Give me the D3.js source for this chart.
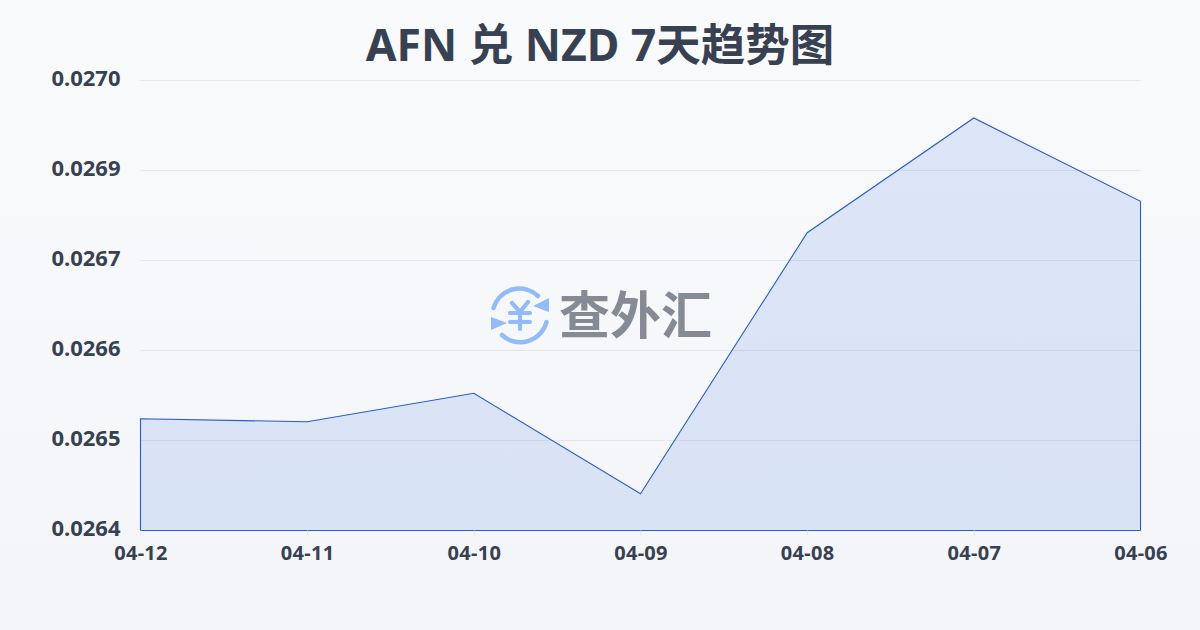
<!DOCTYPE html>
<html>
<head>
<meta charset="utf-8">
<script src="https://cdn.jsdelivr.net/npm/d3@7"></script>
<style>
  html, body { margin: 0; padding: 0; }
  body { width: 1200px; height: 630px; overflow: hidden; font-family: "Noto Sans", "Noto Sans CJK SC", sans-serif; }
  .axis text { font-family: "Noto Sans", "Noto Sans CJK SC", sans-serif; font-weight: 700; fill: #374151; }
  .axis path { display: none; }
</style>
</head>
<body>
<div id="chart"></div>
<script>
// AFN / NZD 7 day trend
const dates = ["04-12", "04-11", "04-10", "04-09", "04-08", "04-07", "04-06"];
const rates = [0.026549, 0.026545, 0.026583, 0.026449, 0.026797, 0.026950, 0.026839];
const yTickValues = [0.0264, 0.02652, 0.02664, 0.02676, 0.02688, 0.0270];
const yTickLabels = ["0.0264", "0.0265", "0.0266", "0.0267", "0.0269", "0.0270"];
const titleText = "AFN 兑 NZD 7天趋势图";
const logoText = "查外汇";

const W = 1200, H = 630;
const margin = { top: 80.5, right: 59.5, bottom: 99.5, left: 140.5 };
const width = W - margin.left - margin.right;
const height = H - margin.top - margin.bottom;

const root = d3.select("#chart").append("svg")
  .attr("width", W)
  .attr("height", H)
  .style("display", "block");

const defs = root.append("defs");
const bg = defs.append("linearGradient").attr("id", "bg").attr("x1", 0).attr("y1", 0).attr("x2", 0).attr("y2", 1);
bg.append("stop").attr("offset", "0%").attr("stop-color", "#f9fafc");
bg.append("stop").attr("offset", "100%").attr("stop-color", "#f3f5f8");

root.append("rect").attr("width", W).attr("height", H).attr("fill", "url(#bg)");

root.append("text")
  .attr("x", W / 2)
  .attr("y", 61)
  .attr("text-anchor", "middle")
  .attr("font-size", 44.5)
  .attr("font-weight", 700)
  .attr("fill", "#374151")
  .text(titleText);

const svg = root.append("g").attr("transform", `translate(${margin.left},${margin.top})`);

const x = d3.scalePoint().domain(dates).range([0, width]);
const y = d3.scaleLinear().domain([0.0264, 0.0270]).range([height, 0]);

// grid
svg.append("g")
  .selectAll("line")
  .data(yTickValues)
  .join("line")
  .attr("x1", 0)
  .attr("x2", width)
  .attr("y1", d => y(d))
  .attr("y2", d => y(d))
  .attr("stroke", "#e5e7eb")
  .attr("stroke-width", 1);

// area + outline
const area = d3.area()
  .x((d, i) => x(dates[i]))
  .y0(height)
  .y1(d => y(d));

svg.append("path")
  .datum(rates)
  .attr("d", area)
  .attr("fill", "rgba(37,99,235,0.13)")
  .attr("stroke", "#2a5cc8")
  .attr("stroke-width", 1.1);

// axes
svg.append("g").attr("class", "axis")
  .call(d3.axisLeft(y).tickValues(yTickValues).tickSize(0).tickPadding(20)
    .tickFormat((d, i) => yTickLabels[i]))
  .call(g => g.selectAll("text").attr("font-size", 22).attr("dy", "0.24em"));

svg.append("g").attr("class", "axis")
  .attr("transform", `translate(0,${height})`)
  .call(d3.axisBottom(x).tickSize(5).tickPadding(10))
  .call(g => g.selectAll("line").attr("stroke", "#e5e7eb"))
  .call(g => g.selectAll("text").attr("font-size", 20).attr("letter-spacing", 0.3));

// watermark logo
const logo = root.append("g").attr("transform", "translate(520,316)");
const blue = "#93bbf8";
logo.append("path")
  .attr("d", "M-26.5,-8 A27,27 0 0 1 18,-20")
  .attr("fill", "none").attr("stroke", blue).attr("stroke-width", 4.5).attr("stroke-linecap", "round");
logo.append("path")
  .attr("d", "M26.5,6 A27,27 0 0 1 -18,19")
  .attr("fill", "none").attr("stroke", blue).attr("stroke-width", 4.5).attr("stroke-linecap", "round");
logo.append("path").attr("d", "M29,-18 L29,-4 L13,-10 Z").attr("fill", blue);
logo.append("path").attr("d", "M-29,1 L-29,14 L-13,7 Z").attr("fill", blue);
logo.append("path")
  .attr("d", "M-8,-13 L0,-4 L8,-14 M-10,-3 L10,-3 M-10,6 L10,6 M0,-4 L0,13")
  .attr("fill", "none").attr("stroke", blue).attr("stroke-width", 4.2).attr("stroke-linecap", "round").attr("stroke-linejoin", "round");

root.append("text")
  .attr("x", 559)
  .attr("y", 334)
  .attr("font-family", "'Noto Sans CJK SC', sans-serif")
  .attr("font-size", 51)
  .attr("font-weight", 700)
  .attr("fill", "#858b94")
  .text(logoText);
</script>
</body>
</html>
